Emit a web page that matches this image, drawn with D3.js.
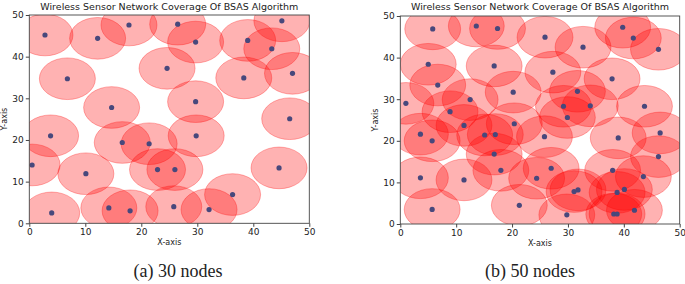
<!DOCTYPE html>
<html>
<head>
<meta charset="utf-8">
<script src="https://cdn.jsdelivr.net/npm/d3@7"></script>
<style>
  body { margin: 0; background: #fff; }
  text { font-family: "DejaVu Sans", sans-serif; fill: #222; }
</style>
</head>
<body>
<div id="chart"></div>
<script>
// node positions (x, y in metres)
const nodes30X = [2.8, 12.2, 17.8, 26.5, 29.7, 45.1, 39.0, 43.3, 6.8, 24.6, 38.3, 47.0, 14.7, 29.7, 46.5,
  3.8, 0.5, 16.6, 21.4, 29.8, 22.9, 26.0, 10.1, 44.6, 36.3, 4.0, 14.2, 18.0, 25.8, 32.1];
const nodes30Y = [45.2, 44.4, 47.6, 47.8, 43.5, 48.6, 43.9, 41.9, 34.7, 37.2, 34.9, 36.0, 27.8, 29.2, 25.1,
  21.0, 14.0, 19.4, 19.1, 21.0, 12.9, 12.9, 11.9, 13.3, 6.9, 2.5, 3.7, 3.0, 4.0, 3.3];

const nodes50X = [5.8, 13.6, 17.4, 25.9, 32.7, 39.8, 41.7, 46.2, 5.0, 16.8, 6.7, 27.3, 37.9, 1.0, 12.5,
  20.2, 31.7, 8.9, 29.2, 34.0, 43.7, 29.9, 11.4, 20.4, 3.6, 5.7, 15.1, 17.0, 16.8, 25.8,
  39.0, 46.5, 46.2, 18.0, 27.0, 24.4, 38.0, 43.5, 3.6, 11.4, 31.1, 31.8, 38.8, 40.1, 5.7,
  21.3, 29.8, 38.2, 38.8, 41.9];
const nodes50Y = [46.9, 47.6, 47.0, 44.9, 42.5, 47.3, 44.7, 42.0, 38.4, 38.0, 33.4, 36.5, 34.9, 29.0, 29.9,
  31.7, 31.9, 27.0, 28.3, 28.4, 28.3, 25.6, 23.7, 24.1, 21.6, 20.0, 21.4, 21.5, 16.8, 21.0,
  20.7, 21.9, 16.2, 12.9, 13.4, 11.0, 12.9, 11.4, 11.1, 10.6, 7.8, 8.2, 7.6, 8.3, 3.5,
  4.5, 2.2, 2.4, 2.4, 3.3];

const sensingRadius = 5;
const axisTicks = [0, 10, 20, 30, 40, 50];
const titleText = "Wireless Sensor Network Coverage Of BSAS Algorithm";
const captions = ["(a) 30 nodes", "(b) 50 nodes"];

const width = 685, height = 284;

const svg = d3.select("#chart")
  .append("svg")
  .attr("width", width)
  .attr("height", height);

const panels = [
  { xs: nodes30X, ys: nodes30Y, left: 29.3, right: 309.3, top: 15, bottom: 223.3, caption: captions[0], capX: 178 },
  { xs: nodes50X, ys: nodes50Y, left: 400.3, right: 679.7, top: 16, bottom: 224, caption: captions[1], capX: 530 }
];

panels.forEach((p, k) => {
  const x = d3.scaleLinear().domain([0, 50]).range([p.left, p.right]);
  const y = d3.scaleLinear().domain([0, 50]).range([p.bottom, p.top]);
  const data = p.xs.map((v, i) => ({ x: v, y: p.ys[i] }));

  const clipId = "clip" + k;
  svg.append("clipPath").attr("id", clipId)
    .append("rect")
    .attr("x", p.left).attr("y", p.top)
    .attr("width", p.right - p.left).attr("height", p.bottom - p.top);

  // coverage discs (look like ellipses because axes aren't equal)
  svg.append("g")
    .attr("clip-path", `url(#${clipId})`)
    .selectAll("ellipse")
    .data(data)
    .join("ellipse")
    .attr("cx", d => x(d.x))
    .attr("cy", d => y(d.y))
    .attr("rx", x(sensingRadius) - x(0))
    .attr("ry", y(0) - y(sensingRadius))
    .attr("fill", "rgba(255,0,0,0.3)")
    .attr("stroke", "rgba(255,0,0,0.3)")
    .attr("stroke-width", 1);

  svg.append("g")
    .selectAll("circle")
    .data(data)
    .join("circle")
    .attr("cx", d => x(d.x))
    .attr("cy", d => y(d.y))
    .attr("r", 2.6)
    .attr("fill", "#48487c");

  // frame
  svg.append("rect")
    .attr("x", p.left).attr("y", p.top)
    .attr("width", p.right - p.left).attr("height", p.bottom - p.top)
    .attr("fill", "none")
    .attr("stroke", "#444")
    .attr("stroke-width", 0.9);

  const xAxis = svg.append("g")
    .attr("transform", `translate(0,${p.bottom})`)
    .call(d3.axisBottom(x).tickValues(axisTicks).tickSize(3.5).tickPadding(2).tickFormat(d3.format("d")));
  const yAxis = svg.append("g")
    .attr("transform", `translate(${p.left},0)`)
    .call(d3.axisLeft(y).tickValues(axisTicks).tickSize(3.5).tickPadding(2).tickFormat(d3.format("d")));
  [xAxis, yAxis].forEach(a => {
    a.select(".domain").remove();
    a.selectAll("line").attr("stroke", "#444");
    a.selectAll("text").attr("font-size", 9).attr("font-family", "DejaVu Sans").attr("fill", "#222");
  });

  const cx = (p.left + p.right) / 2;
  svg.append("text")
    .attr("x", cx).attr("y", 10)
    .attr("text-anchor", "middle")
    .attr("font-size", 9.5)
    .text(titleText);

  svg.append("text")
    .attr("x", cx).attr("y", p.bottom + 22)
    .attr("text-anchor", "middle")
    .attr("font-size", 8)
    .text("X-axis");

  svg.append("text")
    .attr("transform", `translate(${p.left - 22},${(p.top + p.bottom) / 2}) rotate(-90)`)
    .attr("text-anchor", "middle")
    .attr("font-size", 8)
    .text("Y-axis");

  svg.append("text")
    .attr("x", p.capX).attr("y", 277)
    .attr("text-anchor", "middle")
    .attr("font-size", 18)
    .style("font-family", "'Liberation Serif', serif")
    .text(p.caption);
});
</script>
</body>
</html>
